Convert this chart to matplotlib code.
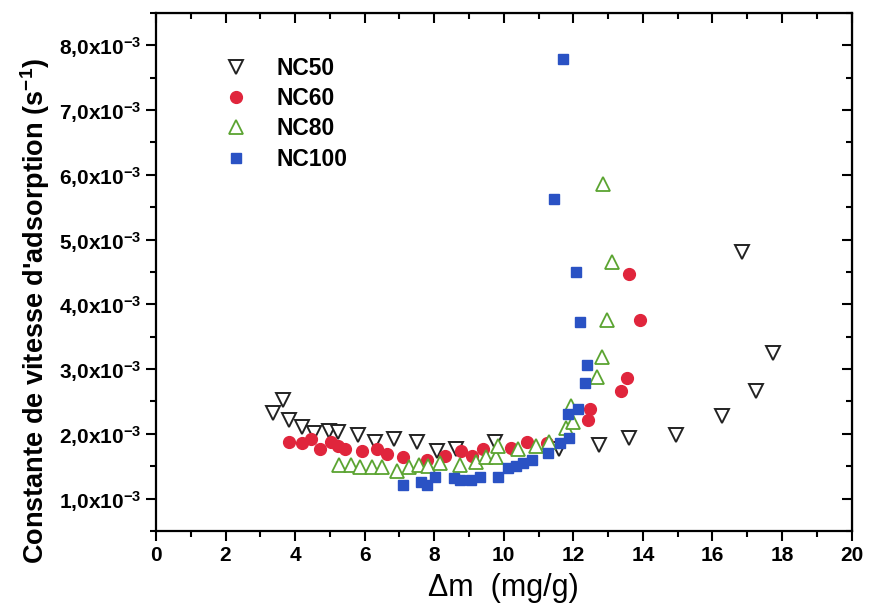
import matplotlib
matplotlib.use('Agg')
import matplotlib.pyplot as plt
from matplotlib.ticker import MultipleLocator, FuncFormatter

plt.rcParams['font.family'] = ['Liberation Sans', 'DejaVu Sans']
plt.rcParams['mathtext.fontset'] = 'custom'
plt.rcParams['mathtext.rm'] = 'Liberation Sans:bold'
plt.rcParams['mathtext.default'] = 'rm'

# delta m (mg/g) and rate constant (x1e-3 s^-1)
nc50_x = [3.35, 3.64, 3.83, 4.19, 4.55, 4.97, 5.24, 5.80, 6.29, 6.85, 7.51, 8.07,
          8.64, 9.75, 11.59, 12.73, 13.60, 14.94, 16.28, 17.25, 17.74, 16.84]
nc50_k = [2.32, 2.52, 2.22, 2.10, 2.01, 2.05, 2.03, 1.99, 1.88, 1.92, 1.88, 1.74,
          1.77, 1.88, 1.76, 1.83, 1.94, 1.99, 2.27, 2.66, 3.25, 4.81]

nc60_x = [3.83, 4.21, 4.47, 4.71, 5.03, 5.24, 5.43, 5.91, 6.34, 6.63, 7.11, 7.78,
          8.30, 8.76, 9.10, 9.41, 10.20, 10.66, 11.23, 12.41, 12.47, 13.38, 13.55,
          13.60, 13.92]
nc60_k = [1.88, 1.86, 1.92, 1.77, 1.87, 1.82, 1.77, 1.74, 1.77, 1.69, 1.65, 1.60,
          1.66, 1.74, 1.66, 1.76, 1.78, 1.88, 1.86, 2.22, 2.38, 2.66, 2.87,
          4.47, 3.76]

nc80_x = [5.27, 5.62, 5.86, 6.20, 6.49, 6.92, 7.28, 7.57, 7.83, 8.16, 8.74, 9.21,
          9.50, 9.79, 9.84, 10.41, 10.94, 11.30, 11.80, 11.98, 11.93, 12.69, 12.82,
          12.98, 13.12, 12.84]
nc80_k = [1.52, 1.52, 1.49, 1.49, 1.49, 1.42, 1.49, 1.52, 1.50, 1.55, 1.52, 1.57,
          1.65, 1.65, 1.81, 1.76, 1.81, 1.87, 2.09, 2.18, 2.43, 2.88, 3.19,
          3.76, 4.65, 5.86]

nc100_x = [7.11, 7.63, 7.78, 8.02, 8.56, 8.74, 9.07, 9.31, 9.84, 10.13, 10.36, 10.56,
           10.82, 11.27, 11.61, 11.88, 11.85, 12.12, 12.33, 12.38, 12.19, 12.09,
           11.43, 11.71]
nc100_k = [1.21, 1.26, 1.21, 1.34, 1.32, 1.29, 1.29, 1.33, 1.34, 1.47, 1.50, 1.55,
           1.60, 1.70, 1.86, 1.94, 2.30, 2.38, 2.79, 3.06, 3.73, 4.50,
           5.63, 7.78]

fig = plt.figure(figsize=(8.69, 6.09), dpi=100)
ax = fig.add_axes([0.1795, 0.128, 0.8005, 0.851])

def scaled(vals):
    return [v * 1e-3 for v in vals]

ax.plot(nc50_x, scaled(nc50_k), 'v', ms=10, mfc='white', mec='#222222', mew=1.4,
        label='NC50')
ax.plot(nc60_x, scaled(nc60_k), 'o', ms=8.5, mfc='#e0253c', mec='#e0253c',
        label='NC60')
ax.plot(nc80_x, scaled(nc80_k), '^', ms=10, mfc='white', mec='#5ba431', mew=1.3,
        label='NC80')
ax.plot(nc100_x, scaled(nc100_k), 's', ms=7, mfc='#2a52c4', mec='#2a52c4',
        label='NC100')

ax.set_xlim(0, 20)
ax.set_ylim(0.5e-3, 8.5e-3)
ax.xaxis.set_major_locator(MultipleLocator(2))
ax.xaxis.set_minor_locator(MultipleLocator(1))
ax.yaxis.set_major_locator(MultipleLocator(1e-3))
ax.yaxis.set_minor_locator(MultipleLocator(0.5e-3))
ax.yaxis.set_major_formatter(FuncFormatter(
    lambda v, p: ('%.1f' % (v * 1e3)).replace('.', ',') + 'x10$^{-3}$'))

for s in ax.spines.values():
    s.set_linewidth(1.6)
ax.tick_params(which='major', direction='out', length=7, width=1.5, labelsize=15)
ax.tick_params(which='minor', direction='out', length=4, width=1.5)
for lab in ax.get_xticklabels() + ax.get_yticklabels():
    lab.set_fontweight('bold')

# inward ticks on the top and right sides
top = ax.secondary_xaxis('top')
top.xaxis.set_major_locator(MultipleLocator(2))
top.xaxis.set_minor_locator(MultipleLocator(1))
top.tick_params(which='major', direction='in', length=7, width=1.5, labeltop=False)
top.tick_params(which='minor', direction='in', length=4, width=1.5)
right = ax.secondary_yaxis('right')
right.yaxis.set_major_locator(MultipleLocator(1e-3))
right.yaxis.set_minor_locator(MultipleLocator(0.5e-3))
right.tick_params(which='major', direction='in', length=7, width=1.5, labelright=False)
right.tick_params(which='minor', direction='in', length=4, width=1.5)

ax.set_xlabel('Δm  (mg/g)', fontsize=22, labelpad=6)
ax.set_ylabel("Constante de vitesse d'adsorption (s$^{-1}$)", fontsize=19.5,
              fontweight='bold')
ax.yaxis.set_label_coords(-0.15, 0.425)

ax.legend(loc='upper left', bbox_to_anchor=(0.066, 0.955), frameon=False,
          prop={'weight': 'bold', 'size': 16.5}, handletextpad=1.15,
          labelspacing=0.32, handlelength=1.2)

fig.savefig('out.png', dpi=100)
